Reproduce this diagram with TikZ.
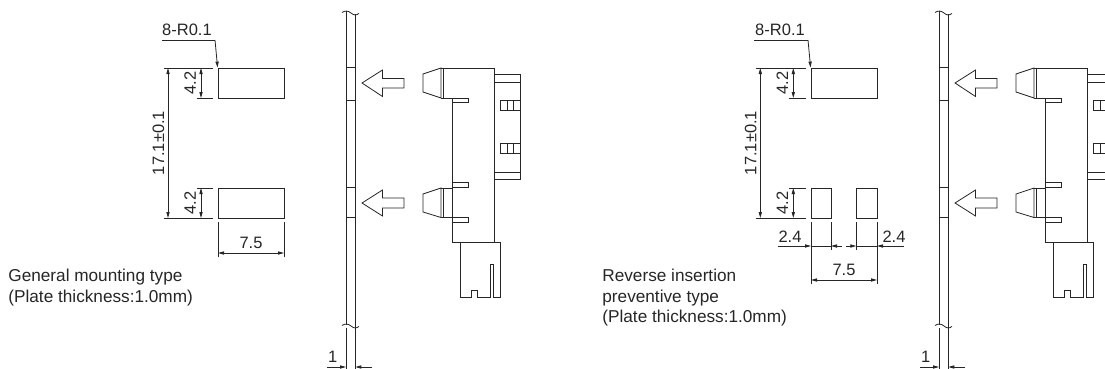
\documentclass[tikz,border=0pt]{standalone}
\usepackage{fontspec}
\setmainfont{Liberation Sans}
\usetikzlibrary{positioning,calc,arrows.meta}

\begin{document}
\begin{tikzpicture}[x=1pt,y=-1pt,>={Stealth[length=6pt,width=3.2pt,inset=0pt]},
			line width=0.8pt,color=black!85,
			dim text/.style={inner sep=0pt,font=\fontsize{16.5}{16.5}\selectfont,text=black!85},
			note text/.style={inner sep=0pt,anchor=base west,font=\fontsize{17.2}{17.2}\selectfont,text=black!85},
			cut hole/.style={draw,fill=white}]

			\useasboundingbox (0,0) rectangle (1105,369);
			\clip (0,0) rectangle (1105,369);

			% plate and connector, same in both halves
			\foreach \dx in {0,593} {
			\begin{scope}[xshift=\dx pt]
				\draw (346,11.5) -- (346,324.5);
				\draw (355.3,14.5) -- (355.3,327.5);
				\draw (342,12.5) .. controls (345,10.5) and (348,10.5) .. (351,13) .. controls (354,15.5) and (356,15.5) .. (359,13.5);
				\draw (342,325.5) .. controls (345,323.5) and (348,323.5) .. (351,326) .. controls (354,328.5) and (356,328.5) .. (359,326.5);
				\foreach \cy in {67.5,100,187,217}
					\draw (346,\cy) -- (355.3,\cy);

				\draw (362,83) -- (382.5,70) -- (382.5,78.5) -- (404,78.5) -- (404,88) -- (382.5,88) -- (382.5,96.5) -- cycle;
				\draw (362,203) -- (382.5,190) -- (382.5,198) -- (404,198) -- (404,208) -- (382.5,208) -- (382.5,216) -- cycle;

				\draw (441,68) -- (423,74) -- (423,92) -- (441,98) -- cycle;
				\draw (443.3,68) -- (443.3,98);
				\draw (441,188) -- (423,194) -- (423,212) -- (441,217.5) -- cycle;
				\draw (443.3,188) -- (443.3,217.5);
				\draw (441,68) -- (494.3,68) -- (494.3,242);
				\draw (441,98) -- (452,98) -- (452,242);
				\draw (441,217.5) -- (452,217.5);
				\draw (441,188) -- (452,188);
				\draw (452,98) rectangle (468,102.7);
				\draw (452,182.7) rectangle (468,187.7);
				\draw (452,217.5) rectangle (468,222.3);
				\draw (452,242) -- (500,242) -- (500,297) -- (493.3,297) -- (493.3,264.7) -- (490.7,264.7) -- (490.7,297)
					-- (477,297) -- (477,290.3) -- (471,290.3) -- (471,297) -- (460,297) -- (460,242);
				\draw (494.3,74.5) -- (520,74.5) -- (520,179) -- (494.3,179);
				\draw (494.3,82) -- (520,82);
				\draw (494.3,172) -- (520,172);
				\draw (520,100.5) -- (500.3,100.5) -- (500.3,110) -- (520,110);
				\draw (507.5,100.5) -- (507.5,110);
				\draw (513.5,100.5) -- (513.5,110);
				\draw (520,143.5) -- (500.3,143.5) -- (500.3,153) -- (520,153);
				\draw (507.5,143.5) -- (507.5,153);
				\draw (513.5,143.5) -- (513.5,153);

				\draw (346,328) -- (346,369);
				\draw (355.3,328) -- (355.3,369);
				\draw[->] (327,367) -- (346,367);
				\draw[->] (372,367) -- (355.3,367);
				\node[dim text] (one\dx) at (332.7,357) {1};
			\end{scope}
			}

			% left cut-outs
			\node[cut hole,minimum width=66pt,minimum height=30pt,inner sep=0pt] (top1) at (251,83) {};
			\node[cut hole,minimum width=66pt,minimum height=30pt,inner sep=0pt] (bot1) at (251,203) {};

			\node[dim text] (r1) at (187,30) {8-R0.1};
			\coordinate (k1) at (215,40);
			\draw (162,40) -- (k1);
			\draw[->] (k1) -- (top1.north west);

			\draw (164,68) -- (213,68);
			\draw (164,218) -- (213,218);
			\draw (197,98) -- (213,98);
			\draw (197,188) -- (213,188);
			\draw[<->] (168,68) -- (168,218) node[dim text,midway,rotate=90,yshift=9.5pt] (pitch1) {17.1±0.1};
			\draw[<->] (201,68) -- (201,98) node[dim text,midway,rotate=90,yshift=11pt] (h1) {4.2};
			\draw[<->] (201,188) -- (201,218) node[dim text,midway,rotate=90,yshift=11pt] (h2) {4.2};

			\draw (218,222) -- (218,257);
			\draw (284,222) -- (284,257);
			\draw[<->] (218,253) -- (284,253) node[dim text,midway,yshift=10pt] (w1) {7.5};

			\node[note text] (g1) at (8,281) {General mounting type};
			\node[note text] (g2) at (8,302) {(Plate thickness:1.0mm)};

			% right cut-outs
			\node[cut hole,minimum width=66pt,minimum height=30pt,inner sep=0pt] (top2) at (844,83) {};
			\draw (811,188) rectangle (831,218);
			\draw (856.3,188) rectangle (877,218);

			\node[dim text] (r2) at (780,30) {8-R0.1};
			\coordinate (k2) at (808,40);
			\draw (754,40) -- (k2);
			\draw[->] (k2) -- (top2.north west);

			\draw (756,68) -- (806,68);
			\draw (756,218) -- (806,218);
			\draw (789,98) -- (806,98);
			\draw (789,188) -- (806,188);
			\draw[<->] (760.3,68) -- (760.3,218) node[dim text,midway,rotate=90,yshift=9.5pt] (pitch2) {17.1±0.1};
			\draw[<->] (793.3,68) -- (793.3,98) node[dim text,midway,rotate=90,yshift=11pt] (h3) {4.2};
			\draw[<->] (793.3,188) -- (793.3,218) node[dim text,midway,rotate=90,yshift=11pt] (h4) {4.2};

			\draw (811,222) -- (811,284);
			\draw (831,222) -- (831,250);
			\draw (856.3,222) -- (856.3,250);
			\draw (877,222) -- (877,284);
			\draw[<->] (811,280) -- (877,280) node[dim text,midway,yshift=10pt] (w2) {7.5};
			\draw[->] (778,246) -- (811,246);
			\draw (811,246) -- (831,246);
			\draw[->] (841.5,246) -- (831,246);
			\draw[->] (846,246) -- (856.3,246);
			\draw (856.3,246) -- (877,246);
			\draw[->] (904,246) -- (877,246);
			\node[dim text] (s1) at (790,236.7) {2.4};
			\node[dim text] (s2) at (894,236.7) {2.4};

			\node[note text] (n1) at (602,281) {Reverse insertion};
			\node[note text] (n2) at (602,302) {preventive type};
			\node[note text] (n3) at (602,322.5) {(Plate thickness:1.0mm)};
		\end{tikzpicture}
\end{document}
